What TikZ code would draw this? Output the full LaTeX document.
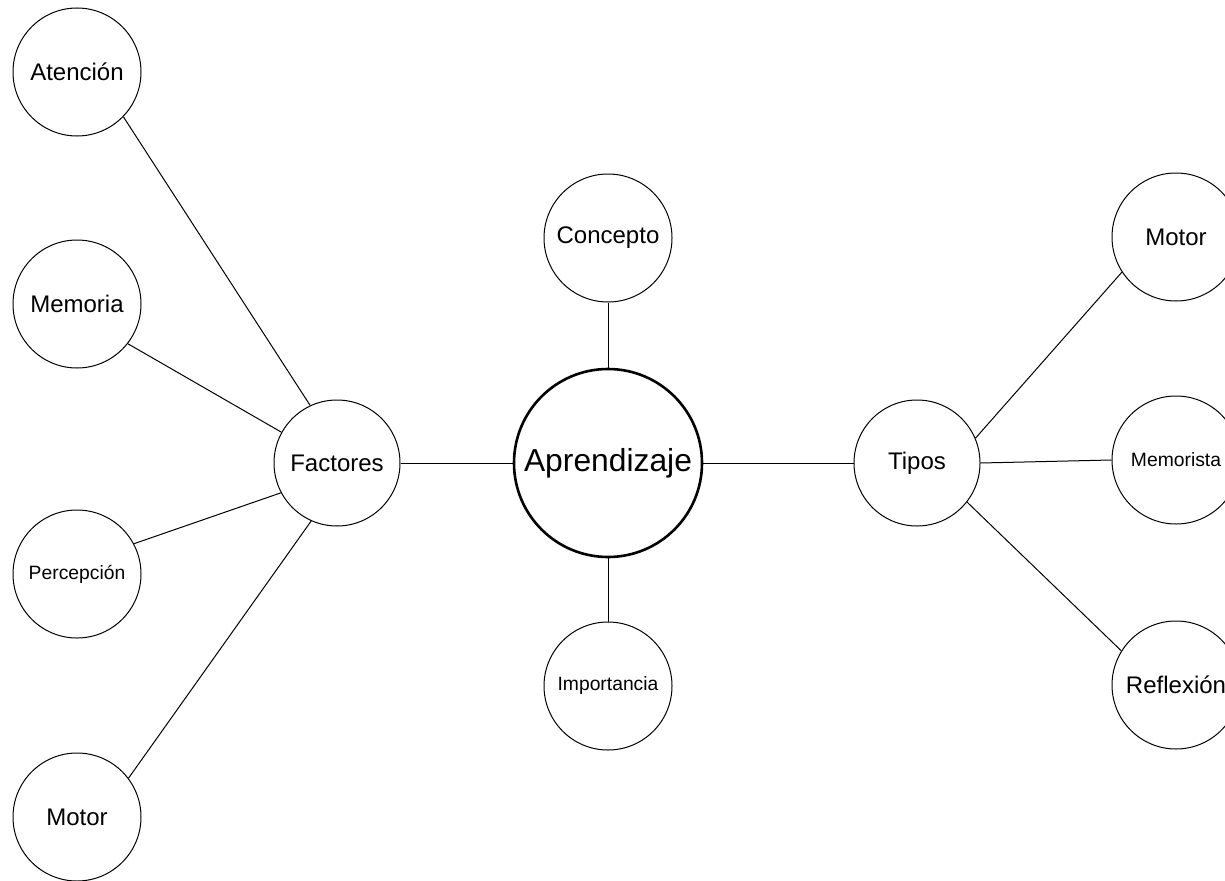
\documentclass[tikz,border=0pt]{standalone}
\usepackage{fontspec}
\setmainfont{Liberation Sans}
\begin{document}
\begin{tikzpicture}[x=1pt,y=-1pt,
  bub/.style={circle,draw,line width=1pt,minimum size=128pt,inner sep=0pt,font=\fontsize{24}{28}\selectfont},
  smallbub/.style={bub,font=\fontsize{19.3}{23}\selectfont},
  mainbub/.style={circle,draw,line width=2.6pt,minimum size=188pt,inner sep=0pt,font=\fontsize{31.8}{36}\selectfont},
  hub/.style={bub,minimum size=126pt},
  link/.style={line width=1pt}]
\useasboundingbox (0,0) rectangle (1225,880);
\node[mainbub] (apr) at (608,463) {Aprendizaje};
\node[hub] (fac) at (337,463) {Factores};
\node[hub] (tip) at (917,463) {Tipos};
\node[bub] (con) at (608,238) {Concepto};
\node[smallbub] (imp) at (608,686) {Importancia};
\node[bub] (ate) at (77,72) {Atención};
\node[bub] (mem) at (77,304) {Memoria};
\node[smallbub] (per) at (77,574) {Percepción};
\node[bub] (mol) at (77,817) {Motor};
\node[bub] (mor) at (1176,237) {Motor};
\node[smallbub] (mst) at (1176,460) {Memorista};
\node[bub] (ref) at (1176,685) {Reflexión};
\draw[link] (fac.east) -- (apr.west);
\draw[link] (apr.east) -- (tip.west);
\draw[link] (con.south) -- (apr.north);
\draw[link] (apr.south) -- (imp.north);
\draw[link] (ate.-44) -- (fac.115);
\draw[link] (mem.-38) -- (fac.151);
\draw[link] (per.28) -- (fac.208);
\draw[link] (mol.37) -- (fac.246);
\draw[link] (tip.23) -- (mor.213);
\draw[link] (tip.east) -- (mst.west);
\draw[link] (tip.-38) -- (ref.148);
\end{tikzpicture}
\end{document}
